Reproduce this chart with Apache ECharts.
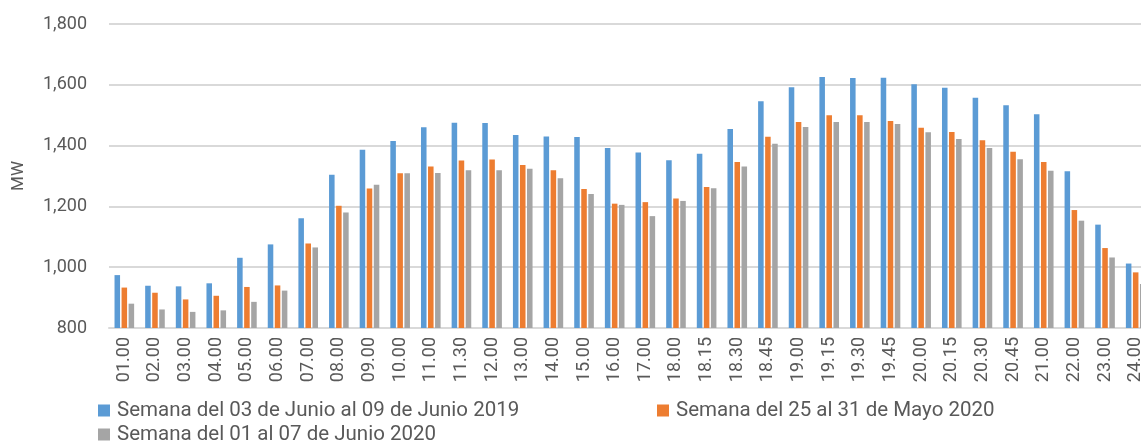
<!DOCTYPE html>
<html>
<head>
<meta charset="utf-8">
<script src="https://cdn.jsdelivr.net/npm/echarts@6/dist/echarts.min.js"></script>
<style>
  html, body { margin: 0; padding: 0; background: #fff; }
  #chart { width: 1141px; height: 443px; }
</style>
</head>
<body>
<div id="chart"></div>
<script>
const categories = ["01.00", "02.00", "03.00", "04.00", "05.00", "06.00", "07.00", "08.00", "09.00", "10.00",
  "11.00", "11.30", "12.00", "13.00", "14.00", "15.00", "16.00", "17.00", "18.00", "18.15",
  "18.30", "18.45", "19.00", "19.15", "19.30", "19.45", "20.00", "20.15", "20.30", "20.45",
  "21.00", "22.00", "23.00", "24.00"];

const seriesNames = [
  "Semana del 03 de Junio al 09 de Junio 2019",
  "Semana del 25 al 31 de Mayo 2020",
  "Semana del 01 al 07 de Junio 2020"
];

const week2019 = [974, 939, 937, 947, 1031, 1075, 1161, 1304, 1386, 1415,
  1460, 1475, 1474, 1435, 1430, 1428, 1392, 1377, 1352, 1373,
  1455, 1546, 1592, 1626, 1622, 1623, 1602, 1590, 1557, 1533,
  1503, 1316, 1140, 1012];

const mayo2020 = [933, 916, 894, 906, 935, 940, 1078, 1202, 1259, 1309,
  1331, 1351, 1354, 1336, 1319, 1257, 1209, 1214, 1226, 1264,
  1346, 1429, 1478, 1500, 1500, 1481, 1459, 1445, 1418, 1380,
  1346, 1188, 1063, 983];

const junio2020 = [880, 861, 853, 858, 886, 923, 1065, 1180, 1271, 1309,
  1310, 1319, 1319, 1324, 1293, 1241, 1205, 1168, 1218, 1260,
  1331, 1406, 1461, 1478, 1478, 1471, 1444, 1422, 1392, 1355,
  1317, 1153, 1032, 945];

const colors = ["#5B9BD5", "#ED7D31", "#A5A5A5"];
const font = "Roboto";
const textColor = "#595959";

const chart = echarts.init(document.getElementById("chart"));

// one legend per item so the two columns line up like the original
const legendBase = {
  top: 400,
  padding: 0,
  icon: "rect",
  itemWidth: 12,
  itemHeight: 12,
  textStyle: { fontFamily: font, fontSize: 20.5, color: textColor, padding: [0, 0, 0, 2] }
};

const option = {
  color: colors,
  animation: false,
  grid: { left: 109, width: 1042, top: 24, bottom: 115, outerBoundsMode: "none", containLabel: false },
  legend: [
    Object.assign({}, legendBase, { left: 98, data: [seriesNames[0]] }),
    Object.assign({}, legendBase, { left: 657, data: [seriesNames[1]] }),
    Object.assign({}, legendBase, { left: 98, top: 424, data: [seriesNames[2]] })
  ],
  xAxis: {
    type: "category",
    data: categories,
    axisLine: { lineStyle: { color: "#d9d9d9", width: 2 } },
    axisTick: { show: false },
    axisLabel: {
      rotate: 90,
      interval: 0,
      margin: 9,
      fontFamily: font,
      fontSize: 18,
      color: textColor
    }
  },
  yAxis: {
    type: "value",
    min: 800,
    max: 1800,
    interval: 200,
    name: "MW",
    nameLocation: "middle",
    nameGap: 82,
    nameRotate: 90,
    nameTextStyle: { fontFamily: font, fontSize: 17, color: textColor },
    axisLine: { show: false },
    axisTick: { show: false },
    splitLine: { lineStyle: { color: "#d9d9d9", width: 2 } },
    axisLabel: {
      margin: 22,
      fontFamily: font,
      fontSize: 18,
      color: textColor,
      formatter: function (v) { return v.toLocaleString("en-US"); }
    }
  },
  series: [
    { name: seriesNames[0], type: "bar", data: week2019, barGap: "27%", barCategoryGap: "36%" },
    { name: seriesNames[1], type: "bar", data: mayo2020, barGap: "27%", barCategoryGap: "36%" },
    { name: seriesNames[2], type: "bar", data: junio2020, barGap: "27%", barCategoryGap: "36%" }
  ]
};

chart.setOption(option);
</script>
</body>
</html>
